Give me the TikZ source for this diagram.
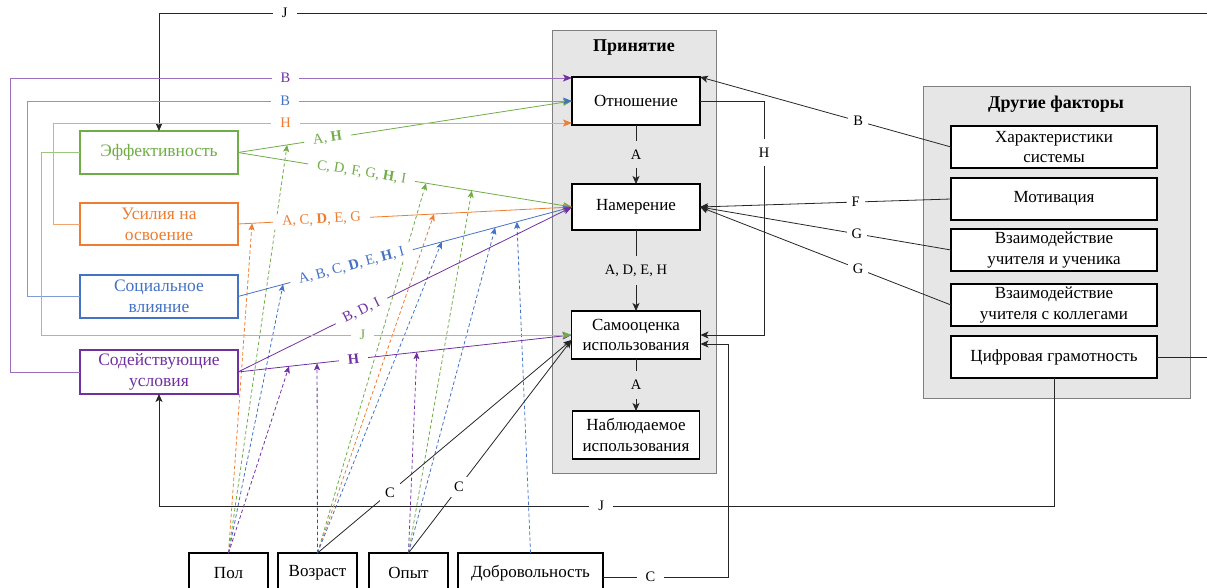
\documentclass[tikz,border=0pt]{standalone}
\usepackage{fontspec}
\setmainfont{Liberation Serif}
\usetikzlibrary{arrows.meta,calc}
\definecolor{cg}{HTML}{70AD47}
\definecolor{co}{HTML}{ED7D31}
\definecolor{cb}{HTML}{4472C4}
\definecolor{cp}{HTML}{7030A0}
\definecolor{accg}{HTML}{E6E6E6}
\definecolor{accb}{HTML}{7F7F7F}
\begin{document}
\begin{tikzpicture}[x=1pt,y=-1pt,
  every node/.style={inner sep=0pt, outer sep=0pt},
  box/.style={draw=black, line width=1.5pt, fill=white, align=center, font=\fontsize{17}{20.5}\selectfont},
  cbox/.style={draw=#1, text=#1, line width=1.5pt, fill=white, align=center, font=\fontsize{17.5}{21}\selectfont},
  cont/.style={draw=accb, fill=accg, line width=1pt},
  ttl/.style={font=\bfseries\fontsize{18}{21}\selectfont},
  conn/.style={draw=black!85, line width=0.8pt},
  arr/.style={-{Stealth[length=8pt,width=7pt,inset=2pt]}},
  lbl/.style={fill=white, inner xsep=9pt, inner ysep=1.5pt, font=\fontsize{14.5}{16}\selectfont},
  olbl/.style={fill=white, inner sep=5pt, font=\fontsize{14.5}{16}\selectfont},
  vlbl/.style={fill=#1, inner xsep=2pt, inner ysep=9pt, font=\fontsize{14.5}{16}\selectfont},
  clbl/.style={lbl, text=#1},
  cl/.style={draw=#1, line width=0.8pt, -{Stealth[length=9pt,width=7pt,inset=2pt]}},
  route/.style={draw=#1!70, line width=0.8pt, -{Stealth[length=9pt,width=7pt,inset=2pt,color=#1]}},
  dsh/.style={draw=#1, dash pattern=on 3.5pt off 2.5pt, line width=0.8pt, -{Stealth[length=7pt,width=6pt,inset=1.5pt]}}
]
\useasboundingbox (0,0) rectangle (1207,588);
\clip (0,0) rectangle (1207,588);

% containers
\node[cont, minimum width=164pt, minimum height=442pt] (acc) at (634,252) {};
\node[ttl] (acct) at (634,48) {Принятие};
\node[cont, minimum width=267pt, minimum height=311pt] (oth) at (1056.5,242.5) {};
\node[ttl] (otht) at (1056,104) {Другие факторы};

% acceptance boxes
\node[box, minimum width=128pt, minimum height=48pt] (otn) at (636,101) {Отношение};
\node[box, minimum width=128pt, minimum height=46pt] (nam) at (636,207) {Намерение};
\node[box, minimum width=129pt, minimum height=48pt] (sam) at (636,335) {Самооценка\\использования};
\node[box, minimum width=127pt, minimum height=48pt] (nab) at (636,435) {Наблюдаемое\\использования};

% other factors
\node[box, line width=1.2pt, minimum width=206pt, minimum height=42pt] (har) at (1054,147) {Характеристики\\системы};
\node[box, line width=1.2pt, minimum width=206pt, minimum height=42pt] (mot) at (1054,199) {Мотивация};
\node[box, line width=1.2pt, minimum width=206pt, minimum height=42pt] (vzu) at (1054,250) {Взаимодействие\\учителя и ученика};
\node[box, line width=1.2pt, minimum width=206pt, minimum height=42pt] (vzk) at (1054,305) {Взаимодействие\\учителя с коллегами};
\node[box, line width=1.2pt, minimum width=206pt, minimum height=42pt] (cif) at (1054,357) {Цифровая грамотность};

% left constructs
\node[cbox=cg, minimum width=158pt, minimum height=43pt] (eff) at (159,152.5) {Эффективность};
\node[cbox=co, minimum width=158pt, minimum height=42pt] (usi) at (159,224) {Усилия на\\освоение};
\node[cbox=cb, minimum width=158pt, minimum height=43pt] (soc) at (159,296.5) {Социальное\\влияние};
\node[cbox=cp, minimum width=158pt, minimum height=44pt] (sod) at (159,372) {Содействующие\\условия};

% moderators
\node[box, minimum width=79pt, minimum height=40pt] (pol) at (228.5,573) {Пол};
\node[box, minimum width=79pt, minimum height=40pt] (voz) at (317.5,573) {Возраст};
\node[box, minimum width=79pt, minimum height=40pt] (opy) at (408.5,573) {Опыт};
\node[box, minimum width=145pt, minimum height=40pt] (dob) at (530.5,573) {Добровольность};

% black connectors inside acceptance
\draw[conn,arr] (otn) -- node[vlbl=accg]{A} (nam);
\draw[conn,arr] (nam) -- node[vlbl=accg]{A, D, E, H} (sam);
\draw[conn,arr] (sam) -- node[vlbl=accg]{A} (nab);
\draw[conn,arr] (otn.east) -- ++(64,0) |- node[pos=0.11, vlbl=white]{H} (sam.east);

% other factors to acceptance
\draw[conn,arr] (har.west) -- node[pos=0.37, olbl]{B} (otn.north east);
\draw[conn,arr] (mot.west) -- node[pos=0.38, olbl]{F} (nam.east);
\draw[conn,arr] (vzu.west) -- node[pos=0.375, olbl]{G} (nam.east);
\draw[conn,arr] (vzk.west) -- node[pos=0.37, olbl]{G} (nam.east);

% J loops
\coordinate (jtop) at (1207,13);
\draw[conn,arr] (jtop) -| node[pos=0.44, lbl]{J} (eff.north);
\draw[conn] (cif.east) -- ++(60,0);
\draw[conn,arr] (cif.south) -- ++(0,128) -| node[pos=0.253, lbl]{J} (sod.south);

% C connectors
\draw[conn,arr] ([yshift=-4pt]dob.east) -- node[pos=0.38, lbl]{C} ++(125,0) |- ([yshift=-9pt]sam.east);

% dashed moderator arrows
\coordinate (tg1) at ($(eff.east)!0.147!(otn.west)$);
\coordinate (tg2) at ($(eff.east)!0.563!(nam.west)$);
\coordinate (tg3) at ($(eff.east)!0.70!(nam.west)$);
\coordinate (to1) at ($(usi.east)!0.042!(nam.west)$);
\coordinate (to2) at ($(usi.east)!0.587!(nam.west)$);
\coordinate (tb1) at ($(soc.east)!0.135!(nam.west)$);
\coordinate (tb2) at ($(soc.east)!0.61!(nam.west)$);
\coordinate (tb3) at ($(soc.east)!0.77!(nam.west)$);
\coordinate (tb4) at ($(soc.east)!0.835!(nam.west)$);
\coordinate (tp1) at ($(sod.east)!0.153!(sam.west)$);
\coordinate (tp2) at ($(sod.east)!0.237!(sam.west)$);
\coordinate (tp3) at ($(sod.east)!0.536!(sam.west)$);

\draw[dsh=co] (pol.north) -- (to1);
\draw[dsh=cg] (pol.north) -- (tg1);
\draw[dsh=cb] (pol.north) -- (tb1);
\draw[dsh=cp] (pol.north) -- (tp1);
\draw[dsh=cp] (voz.north) -- (tp2);
\draw[dsh=cg] (voz.north) -- (tg2);
\draw[dsh=co] (voz.north) -- (to2);
\draw[dsh=cb] (voz.north) -- (tb2);
\draw[dsh=cp] (opy.north) -- (tp3);
\draw[dsh=cg] (opy.north) -- (tg3);
\draw[dsh=cb] (opy.north) -- (tb3);
\draw[dsh=cb] (dob.north) -- (tb4);

\draw[conn,arr] (voz.north) -- node[pos=0.285, olbl]{C} ([yshift=-5pt]sam.west);
\draw[conn,arr] (opy.north) -- node[pos=0.31, olbl]{C} ([yshift=-5pt]sam.west);

% coloured diagonals
\draw[cl=cg] (eff.east) -- node[pos=0.268, sloped, clbl=cg]{A, \textbf{H}} (otn.west);
\draw[cl=cg] (eff.east) -- node[pos=0.37, sloped, clbl=cg]{C, D, F, G, \textbf{H}, I} (nam.west);
\draw[cl=co] (usi.east) -- node[pos=0.25, sloped, clbl=co]{A, C, \textbf{D}, E, G} (nam.west);
\draw[cl=cb] (soc.east) -- node[pos=0.34, sloped, clbl=cb]{A, B, C, \textbf{D}, E, \textbf{H}, I} (nam.west);
\draw[cl=cp] (sod.east) -- node[pos=0.37, sloped, clbl=cp]{B, D, I} (nam.west);
\draw[cl=cp] (sod.east) -- node[pos=0.346, sloped, clbl=cp]{\textbf{H}} (sam.west);

% coloured routes
\draw[route=cp] (sod.west) -- ++(-70,0) |- node[pos=0.745, clbl=cp]{B} ([yshift=23pt]otn.west);
\draw[route=cb] (soc.west) -- ++(-53,0) |- node[pos=0.737, clbl=cb]{B} (otn.west);
\draw[route=co] (usi.west) -- ++(-27,0) |- node[pos=0.724, clbl=co]{H} ([yshift=-22pt]otn.west);
\draw[route=cg] (eff.west) -- ++(-39,0) |- node[pos=0.803, clbl=cg]{J} (sam.west);
\end{tikzpicture}
\end{document}
